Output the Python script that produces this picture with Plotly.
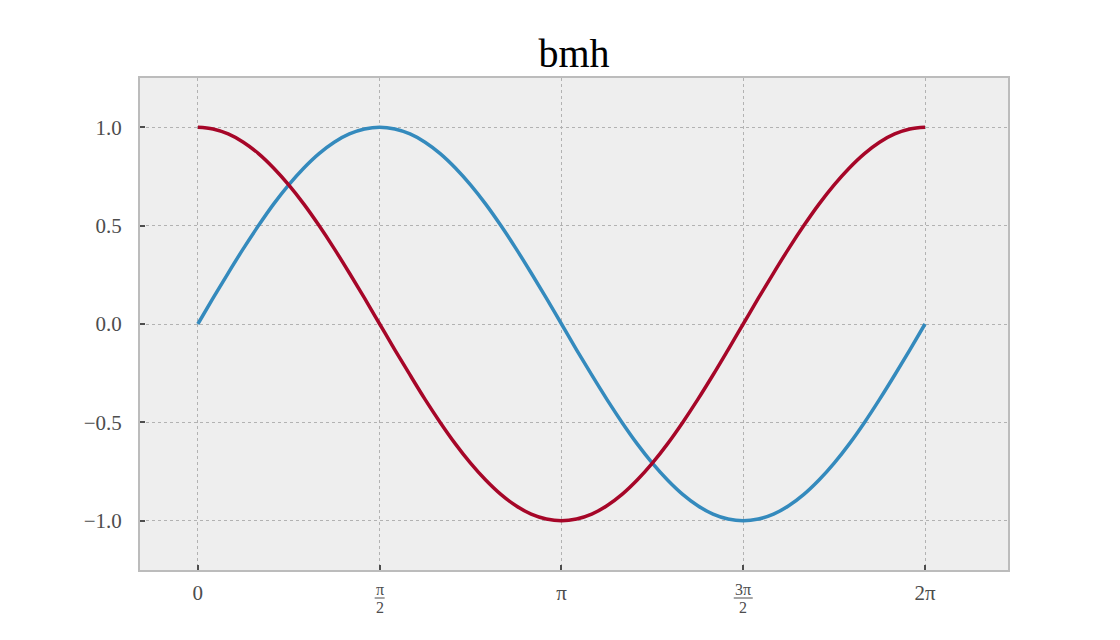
import plotly.graph_objects as go

# x samples (radians) from 0 to 2π
x_vals = [0.0, 0.131, 0.262, 0.393, 0.524, 0.654, 0.785, 0.916, 1.047, 1.178, 1.309, 1.440,
          1.571, 1.702, 1.833, 1.963, 2.094, 2.225, 2.356, 2.487, 2.618, 2.749, 2.880, 3.011,
          3.142, 3.272, 3.403, 3.534, 3.665, 3.796, 3.927, 4.058, 4.189, 4.320, 4.451, 4.581,
          4.712, 4.843, 4.974, 5.105, 5.236, 5.367, 5.498, 5.629, 5.760, 5.890, 6.021, 6.152, 6.283]
sin_vals = [0.0, 0.131, 0.259, 0.383, 0.5, 0.609, 0.707, 0.793, 0.866, 0.924, 0.966, 0.991,
            1.0, 0.991, 0.966, 0.924, 0.866, 0.793, 0.707, 0.609, 0.5, 0.383, 0.259, 0.131,
            0.0, -0.131, -0.259, -0.383, -0.5, -0.609, -0.707, -0.793, -0.866, -0.924, -0.966, -0.991,
            -1.0, -0.991, -0.966, -0.924, -0.866, -0.793, -0.707, -0.609, -0.5, -0.383, -0.259, -0.131, 0.0]
cos_vals = [1.0, 0.991, 0.966, 0.924, 0.866, 0.793, 0.707, 0.609, 0.5, 0.383, 0.259, 0.131,
            0.0, -0.131, -0.259, -0.383, -0.5, -0.609, -0.707, -0.793, -0.866, -0.924, -0.966, -0.991,
            -1.0, -0.991, -0.966, -0.924, -0.866, -0.793, -0.707, -0.609, -0.5, -0.383, -0.259, -0.131,
            0.0, 0.131, 0.259, 0.383, 0.5, 0.609, 0.707, 0.793, 0.866, 0.924, 0.966, 0.991, 1.0]

x_tick_vals = [0.0, 1.5708, 3.1416, 4.7124, 6.2832]
x_tick_plain = ["0", "", "π", "", "2π"]
frac_ticks = [(1.5708, "π", "2", 10), (4.7124, "3π", "2", 19)]
y_tick_vals = [-1.0, -0.5, 0.0, 0.5, 1.0]
y_tick_text = ["−1.0", "−0.5", "0.0", "0.5", "1.0"]

FONT = "Liberation Serif, DejaVu Serif, serif"
TICKCOL = "#4d4d4d"

fig = go.Figure()
fig.add_trace(go.Scatter(x=x_vals, y=sin_vals, mode="lines",
                         line=dict(color="#348ABD", width=3.5, shape="spline", smoothing=1), showlegend=False))
fig.add_trace(go.Scatter(x=x_vals, y=cos_vals, mode="lines",
                         line=dict(color="#A60628", width=3.5, shape="spline", smoothing=1), showlegend=False))

axis_common = dict(
    showline=True, mirror=True, linecolor="#bcbcbc", linewidth=2,
    showgrid=True, gridcolor="#b2b2b2", gridwidth=1, griddash="3px,3px",
    ticks="inside", ticklen=5, tickwidth=1.5, tickcolor="#4d4d4d",
    zeroline=False, tickfont=dict(family=FONT, size=21, color=TICKCOL),
)

fig.update_xaxes(range=[-0.5, 7.0], tickmode="array", tickvals=x_tick_vals, ticktext=x_tick_plain,
                 ticklabelstandoff=3, **axis_common)
fig.update_yaxes(range=[-1.25, 1.25], tickmode="array", tickvals=y_tick_vals, ticktext=y_tick_text,
                 ticklabelstandoff=12, **axis_common)

for xv, num, den, w in frac_ticks:
    fig.add_annotation(x=xv, xref="x", y=0, yref="paper", text=num, showarrow=False,
                       yanchor="middle", yshift=-19, font=dict(family=FONT, size=16, color=TICKCOL))
    fig.add_annotation(x=xv, xref="x", y=0, yref="paper", text=den, showarrow=False,
                       yanchor="middle", yshift=-37, font=dict(family=FONT, size=16, color=TICKCOL))
    fig.add_shape(type="line", xref="x", yref="paper", xsizemode="pixel", ysizemode="pixel",
                  xanchor=xv, yanchor=0, x0=-w / 2, x1=w / 2, y0=-28, y1=-28,
                  line=dict(color=TICKCOL, width=1))

fig.update_layout(
    width=1120, height=640,
    margin=dict(l=132, r=120, t=70, b=78),
    paper_bgcolor="white", plot_bgcolor="#eeeeee",
    title=dict(text="bmh", x=0.5, xref="paper", xanchor="center", y=1, yref="paper", yanchor="bottom",
               pad=dict(b=11), font=dict(family=FONT, size=40, color="black")),
)

fig.write_html("out.html")
